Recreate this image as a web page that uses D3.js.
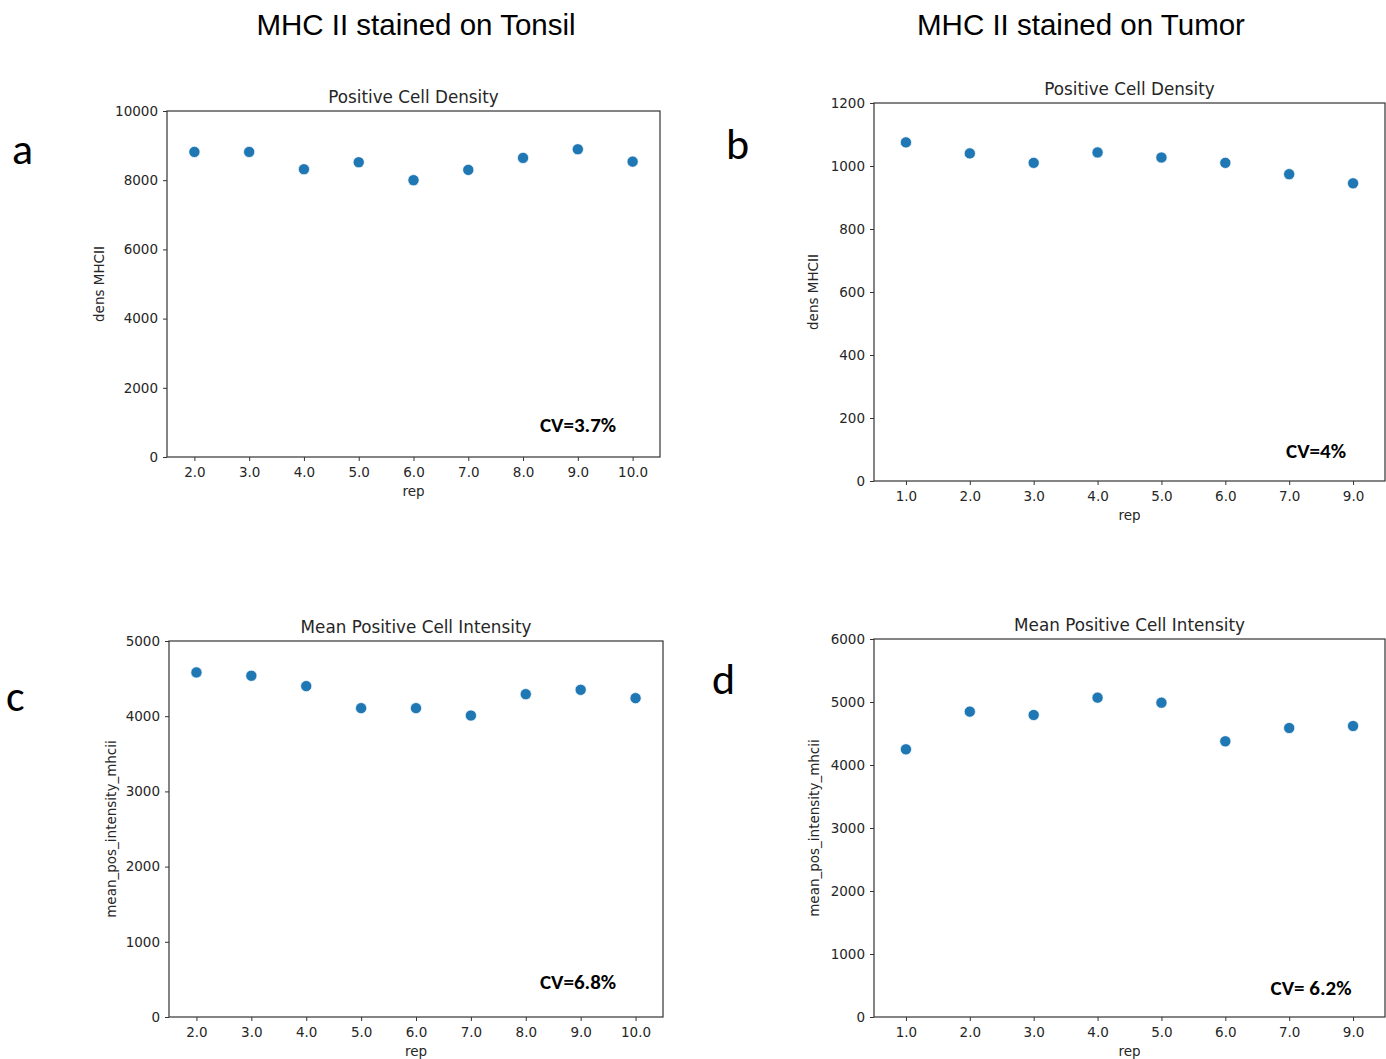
<!DOCTYPE html>
<html>
<head>
<meta charset="utf-8">
<script src="https://cdn.jsdelivr.net/npm/d3@7"></script>
<style>
  body { margin: 0; background: #fff; }
  .tick text { font-family: "DejaVu Sans", sans-serif; font-size: 13.5px; fill: #262626; }
  .tick line { stroke: #333; }
  .axis-title { font-family: "DejaVu Sans", sans-serif; font-size: 13.5px; fill: #262626; }
  .panel-title { font-family: "DejaVu Sans", sans-serif; font-size: 16.8px; fill: #262626; }
  .heading { font-family: "Liberation Sans", Arial, sans-serif; font-size: 29.5px; fill: #000; }
  .letter { font-family: Carlito, "Open Sans", sans-serif; font-size: 44px; fill: #000; }
  .cv { font-family: Carlito, "Liberation Sans Narrow", "Open Sans", sans-serif; font-size: 21px; font-weight: bold; fill: #000; }
</style>
</head>
<body>
<div id="chart"></div>
<script>
var svgWidth = 1386;
var svgHeight = 1059;

// x categories (tumor runs skip 8.0)
var tonsilReps = ["2.0", "3.0", "4.0", "5.0", "6.0", "7.0", "8.0", "9.0", "10.0"];
var tumorReps = ["1.0", "2.0", "3.0", "4.0", "5.0", "6.0", "7.0", "9.0"];

// values
var tonsilDensity = [8817, 8817, 8317, 8519, 8000, 8298, 8644, 8894, 8538];
var tumorDensity = [1075, 1040, 1010, 1043, 1027, 1010, 974, 945];
var tonsilIntensity = [4582, 4538, 4400, 4107, 4107, 4009, 4293, 4351, 4240];
var tumorIntensity = [4249, 4847, 4794, 5069, 4989, 4376, 4587, 4619];

// y tick values
var tonsilDensityTicks = [0, 2000, 4000, 6000, 8000, 10000];
var tumorDensityTicks = [0, 200, 400, 600, 800, 1000, 1200];
var intensityTonsilTicks = [0, 1000, 2000, 3000, 4000, 5000];
var intensityTumorTicks = [0, 1000, 2000, 3000, 4000, 5000, 6000];

var svg = d3.select("#chart")
  .append("svg")
  .attr("width", svgWidth)
  .attr("height", svgHeight);

svg.append("rect")
  .attr("width", svgWidth)
  .attr("height", svgHeight)
  .attr("fill", "#fff");

// column headings
svg.append("text").attr("class", "heading")
  .attr("x", 416).attr("y", 35)
  .attr("text-anchor", "middle")
  .text("MHC II stained on Tonsil");

svg.append("text").attr("class", "heading")
  .attr("x", 1081).attr("y", 35)
  .attr("text-anchor", "middle")
  .text("MHC II stained on Tumor");

var panels = [
  { letter: "a", lx: 12, ly: 164, box: [167, 111, 660, 457], reps: tonsilReps, values: tonsilDensity,
    ticks: tonsilDensityTicks, title: "Positive Cell Density", ylabel: "dens MHCII", yLabelX: 104,
    cv: "CV=3.7%", cvX: 578, cvY: 432 },
  { letter: "b", lx: 726, ly: 159, box: [874, 103, 1385, 481], reps: tumorReps, values: tumorDensity,
    ticks: tumorDensityTicks, title: "Positive Cell Density", ylabel: "dens MHCII", yLabelX: 818,
    cv: "CV=4%", cvX: 1316, cvY: 458 },
  { letter: "c", lx: 6, ly: 711, box: [169, 641, 663, 1017], reps: tonsilReps, values: tonsilIntensity,
    ticks: intensityTonsilTicks, title: "Mean Positive Cell Intensity", ylabel: "mean_pos_intensity_mhcii", yLabelX: 116,
    cv: "CV=6.8%", cvX: 578, cvY: 989 },
  { letter: "d", lx: 712, ly: 694, box: [874, 639, 1385, 1017], reps: tumorReps, values: tumorIntensity,
    ticks: intensityTumorTicks, title: "Mean Positive Cell Intensity", ylabel: "mean_pos_intensity_mhcii", yLabelX: 819,
    cv: "CV= 6.2%", cvX: 1311, cvY: 995 }
];

panels.forEach(function(p) {
  var x0 = p.box[0], y0 = p.box[1], x1 = p.box[2], y1 = p.box[3];

  var xScale = d3.scalePoint()
    .domain(p.reps)
    .range([x0, x1])
    .padding(0.5);

  var yScale = d3.scaleLinear()
    .domain([0, d3.max(p.ticks)])
    .range([y1, y0]);

  var g = svg.append("g");

  // x axis
  g.append("g")
    .attr("transform", `translate(0, ${y1})`)
    .call(d3.axisBottom(xScale).tickSize(4).tickPadding(6))
    .call(s => s.select(".domain").remove());

  // y axis
  g.append("g")
    .attr("transform", `translate(${x0}, 0)`)
    .call(d3.axisLeft(yScale).tickValues(p.ticks).tickFormat(d3.format("d")).tickSize(4).tickPadding(5))
    .call(s => s.select(".domain").remove());

  // frame
  g.append("rect")
    .attr("x", x0).attr("y", y0)
    .attr("width", x1 - x0).attr("height", y1 - y0)
    .attr("fill", "none")
    .attr("stroke", "#333")
    .attr("stroke-width", 1.2);

  // points
  g.selectAll("circle")
    .data(p.values)
    .enter()
    .append("circle")
    .attr("cx", (d, i) => xScale(p.reps[i]))
    .attr("cy", d => yScale(d))
    .attr("r", 5.6)
    .attr("fill", "#1f77b4")
    .attr("stroke", "#fff")
    .attr("stroke-width", 0.7);

  g.append("text").attr("class", "panel-title")
    .attr("x", (x0 + x1) / 2).attr("y", y0 - 8)
    .attr("text-anchor", "middle")
    .text(p.title);

  g.append("text").attr("class", "axis-title")
    .attr("x", (x0 + x1) / 2).attr("y", y1 + 39)
    .attr("text-anchor", "middle")
    .text("rep");

  g.append("text").attr("class", "axis-title")
    .attr("transform", `translate(${p.yLabelX}, ${(y0 + y1) / 2}) rotate(-90)`)
    .attr("text-anchor", "middle")
    .text(p.ylabel);

  g.append("text").attr("class", "cv")
    .attr("x", p.cvX).attr("y", p.cvY)
    .attr("text-anchor", "middle")
    .text(p.cv);

  svg.append("text").attr("class", "letter")
    .attr("x", p.lx).attr("y", p.ly)
    .text(p.letter);
});
</script>
</body>
</html>
